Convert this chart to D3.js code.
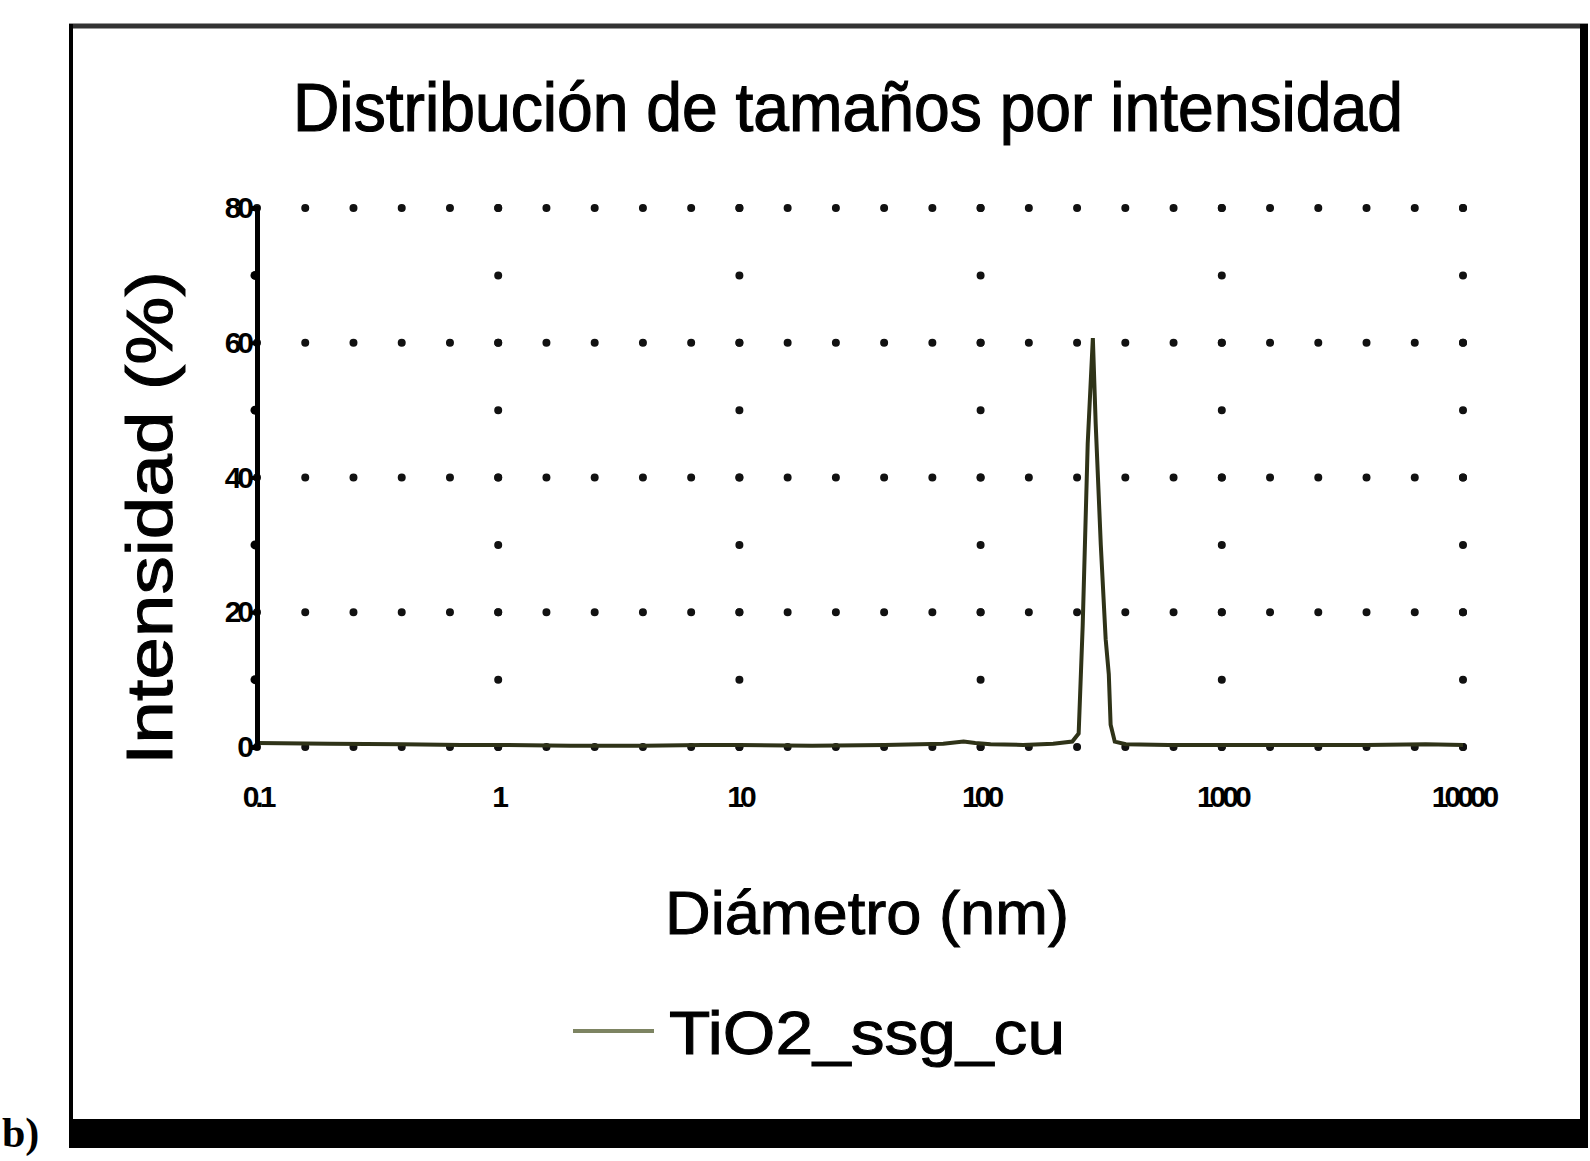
<!DOCTYPE html>
<html>
<head>
<meta charset="utf-8">
<script src="https://cdn.jsdelivr.net/npm/d3@7"></script>
<style>
  html, body { margin: 0; padding: 0; background: #fff; }
  svg { display: block; }
</style>
</head>
<body>
<svg id="chart" width="1590" height="1161"></svg>
<script>
// data (diameter in nm, intensity in %)
const diameters = [0.1, 0.2, 0.4, 0.7, 1, 2, 4, 7, 10, 20, 40, 70, 85, 95, 110, 150, 200, 240, 255, 265, 278, 292, 300, 315, 330, 340, 346, 360, 400, 600, 1000, 2000, 4000, 7000, 10000];
const intensity = [0.6, 0.5, 0.4, 0.3, 0.3, 0.2, 0.2, 0.3, 0.3, 0.2, 0.3, 0.5, 0.8, 0.6, 0.4, 0.3, 0.5, 0.8, 2, 18, 45, 60.7, 48, 30, 16, 10.8, 3.3, 0.8, 0.4, 0.3, 0.3, 0.3, 0.3, 0.4, 0.3];
const xTicks = [0.1, 1, 10, 100, 1000, 10000];
const xTickLabels = ["0.1", "1", "10", "100", "1000", "10000"];
const yTicks = [0, 20, 40, 60, 80];
const yMinor = [10, 30, 50, 70];
const seriesName = "TiO2_ssg_cu";

const svg = d3.select("#chart");
const x = d3.scaleLog().domain([0.1, 10000]).range([257, 1463]);
const y = d3.scaleLinear().domain([0, 80]).range([747, 208]);
const decade = x(10) - x(1);
const font = "Liberation Sans, Arial";

// outer frame of the scanned figure
svg.append("line").attr("x1", 69).attr("x2", 1588).attr("y1", 26).attr("y2", 26)
  .attr("stroke", "#333").attr("stroke-width", 5);
svg.append("line").attr("x1", 71).attr("x2", 71).attr("y1", 24).attr("y2", 1125)
  .attr("stroke", "#000").attr("stroke-width", 4);
svg.append("line").attr("x1", 1584).attr("x2", 1584).attr("y1", 24).attr("y2", 1125)
  .attr("stroke", "#000").attr("stroke-width", 8);
svg.append("rect").attr("x", 69).attr("y", 1119).attr("width", 1519).attr("height", 29)
  .attr("fill", "#000");
svg.append("text").attr("x", 2).attr("y", 1147)
  .attr("font-family", "Liberation Serif").attr("font-weight", "bold").attr("font-size", 42)
  .text("b)");

// title
svg.append("text").attr("x", 848).attr("y", 131).attr("text-anchor", "middle")
  .attr("font-family", font).attr("font-size", 68)
  .attr("stroke", "#000").attr("stroke-width", 1.2)
  .attr("textLength", 1110).attr("lengthAdjust", "spacingAndGlyphs")
  .text("Distribución de tamaños por intensidad");

// dotted grid
const grid = svg.append("g").attr("stroke", "#111").attr("stroke-linecap", "round").attr("stroke-width", 8);
grid.selectAll("line.h").data(yTicks).join("line").attr("class", "h")
  .attr("x1", x(0.1)).attr("x2", x(10000) + 1)
  .attr("y1", d => y(d)).attr("y2", d => y(d))
  .attr("stroke-dasharray", `0 ${decade / 5}`)
  .attr("stroke-dashoffset", -decade / 5);
grid.selectAll("line.v").data(xTicks.slice(1)).join("line").attr("class", "v")
  .attr("x1", d => x(d)).attr("x2", d => x(d))
  .attr("y1", y(0)).attr("y2", y(80) - 1)
  .attr("stroke-dasharray", `0 ${(y(0) - y(10))}`)
  .attr("stroke-dashoffset", -(y(0) - y(10)));

// series
const line = d3.line().x(d => x(d[0])).y(d => y(d[1]));
svg.append("path").datum(d3.zip(diameters, intensity))
  .attr("d", line).attr("fill", "none")
  .attr("stroke", "#2f3318").attr("stroke-width", 4);

// y axis
const yAxis = svg.append("g").attr("transform", `translate(${x(0.1)},0)`)
  .call(d3.axisLeft(y).tickValues(yTicks).tickSize(6).tickPadding(1));
yAxis.select(".domain").attr("stroke", "#000").attr("stroke-width", 5);
yAxis.selectAll(".tick line").attr("stroke", "#000").attr("stroke-width", 4);
yAxis.selectAll("text").attr("font-family", font).attr("font-weight", "bold")
  .attr("font-size", 30).attr("letter-spacing", -4).attr("fill", "#000");
yAxis.selectAll("circle.minor").data(yMinor).join("circle").attr("class", "minor")
  .attr("cx", -2).attr("cy", d => y(d)).attr("r", 4.5).attr("fill", "#000");

// x axis (labels only)
const xAxis = svg.append("g").attr("transform", `translate(0,${y(0)})`)
  .call(d3.axisBottom(x).tickValues(xTicks).tickFormat((d, i) => xTickLabels[i]).tickSize(0).tickPadding(39));
xAxis.select(".domain").remove();
xAxis.selectAll("text").attr("font-family", font).attr("font-weight", "bold")
  .attr("font-size", 30).attr("letter-spacing", -4).attr("fill", "#000");

// axis titles
svg.append("text").attr("transform", "translate(172,518) rotate(-90)").attr("text-anchor", "middle")
  .attr("font-family", font).attr("font-size", 64)
  .attr("stroke", "#000").attr("stroke-width", 1)
  .attr("textLength", 494).attr("lengthAdjust", "spacingAndGlyphs")
  .text("Intensidad (%)");
svg.append("text").attr("x", 867).attr("y", 934).attr("text-anchor", "middle")
  .attr("font-family", font).attr("font-size", 62)
  .attr("stroke", "#000").attr("stroke-width", 1)
  .attr("textLength", 404).attr("lengthAdjust", "spacingAndGlyphs")
  .text("Diámetro (nm)");

// legend
svg.append("line").attr("x1", 573).attr("x2", 654).attr("y1", 1031).attr("y2", 1031)
  .attr("stroke", "#7d8462").attr("stroke-width", 4);
svg.append("text").attr("x", 669).attr("y", 1054)
  .attr("font-family", font).attr("font-size", 62)
  .attr("stroke", "#000").attr("stroke-width", 1)
  .attr("textLength", 396).attr("lengthAdjust", "spacingAndGlyphs")
  .text(seriesName);
</script>
</body>
</html>
